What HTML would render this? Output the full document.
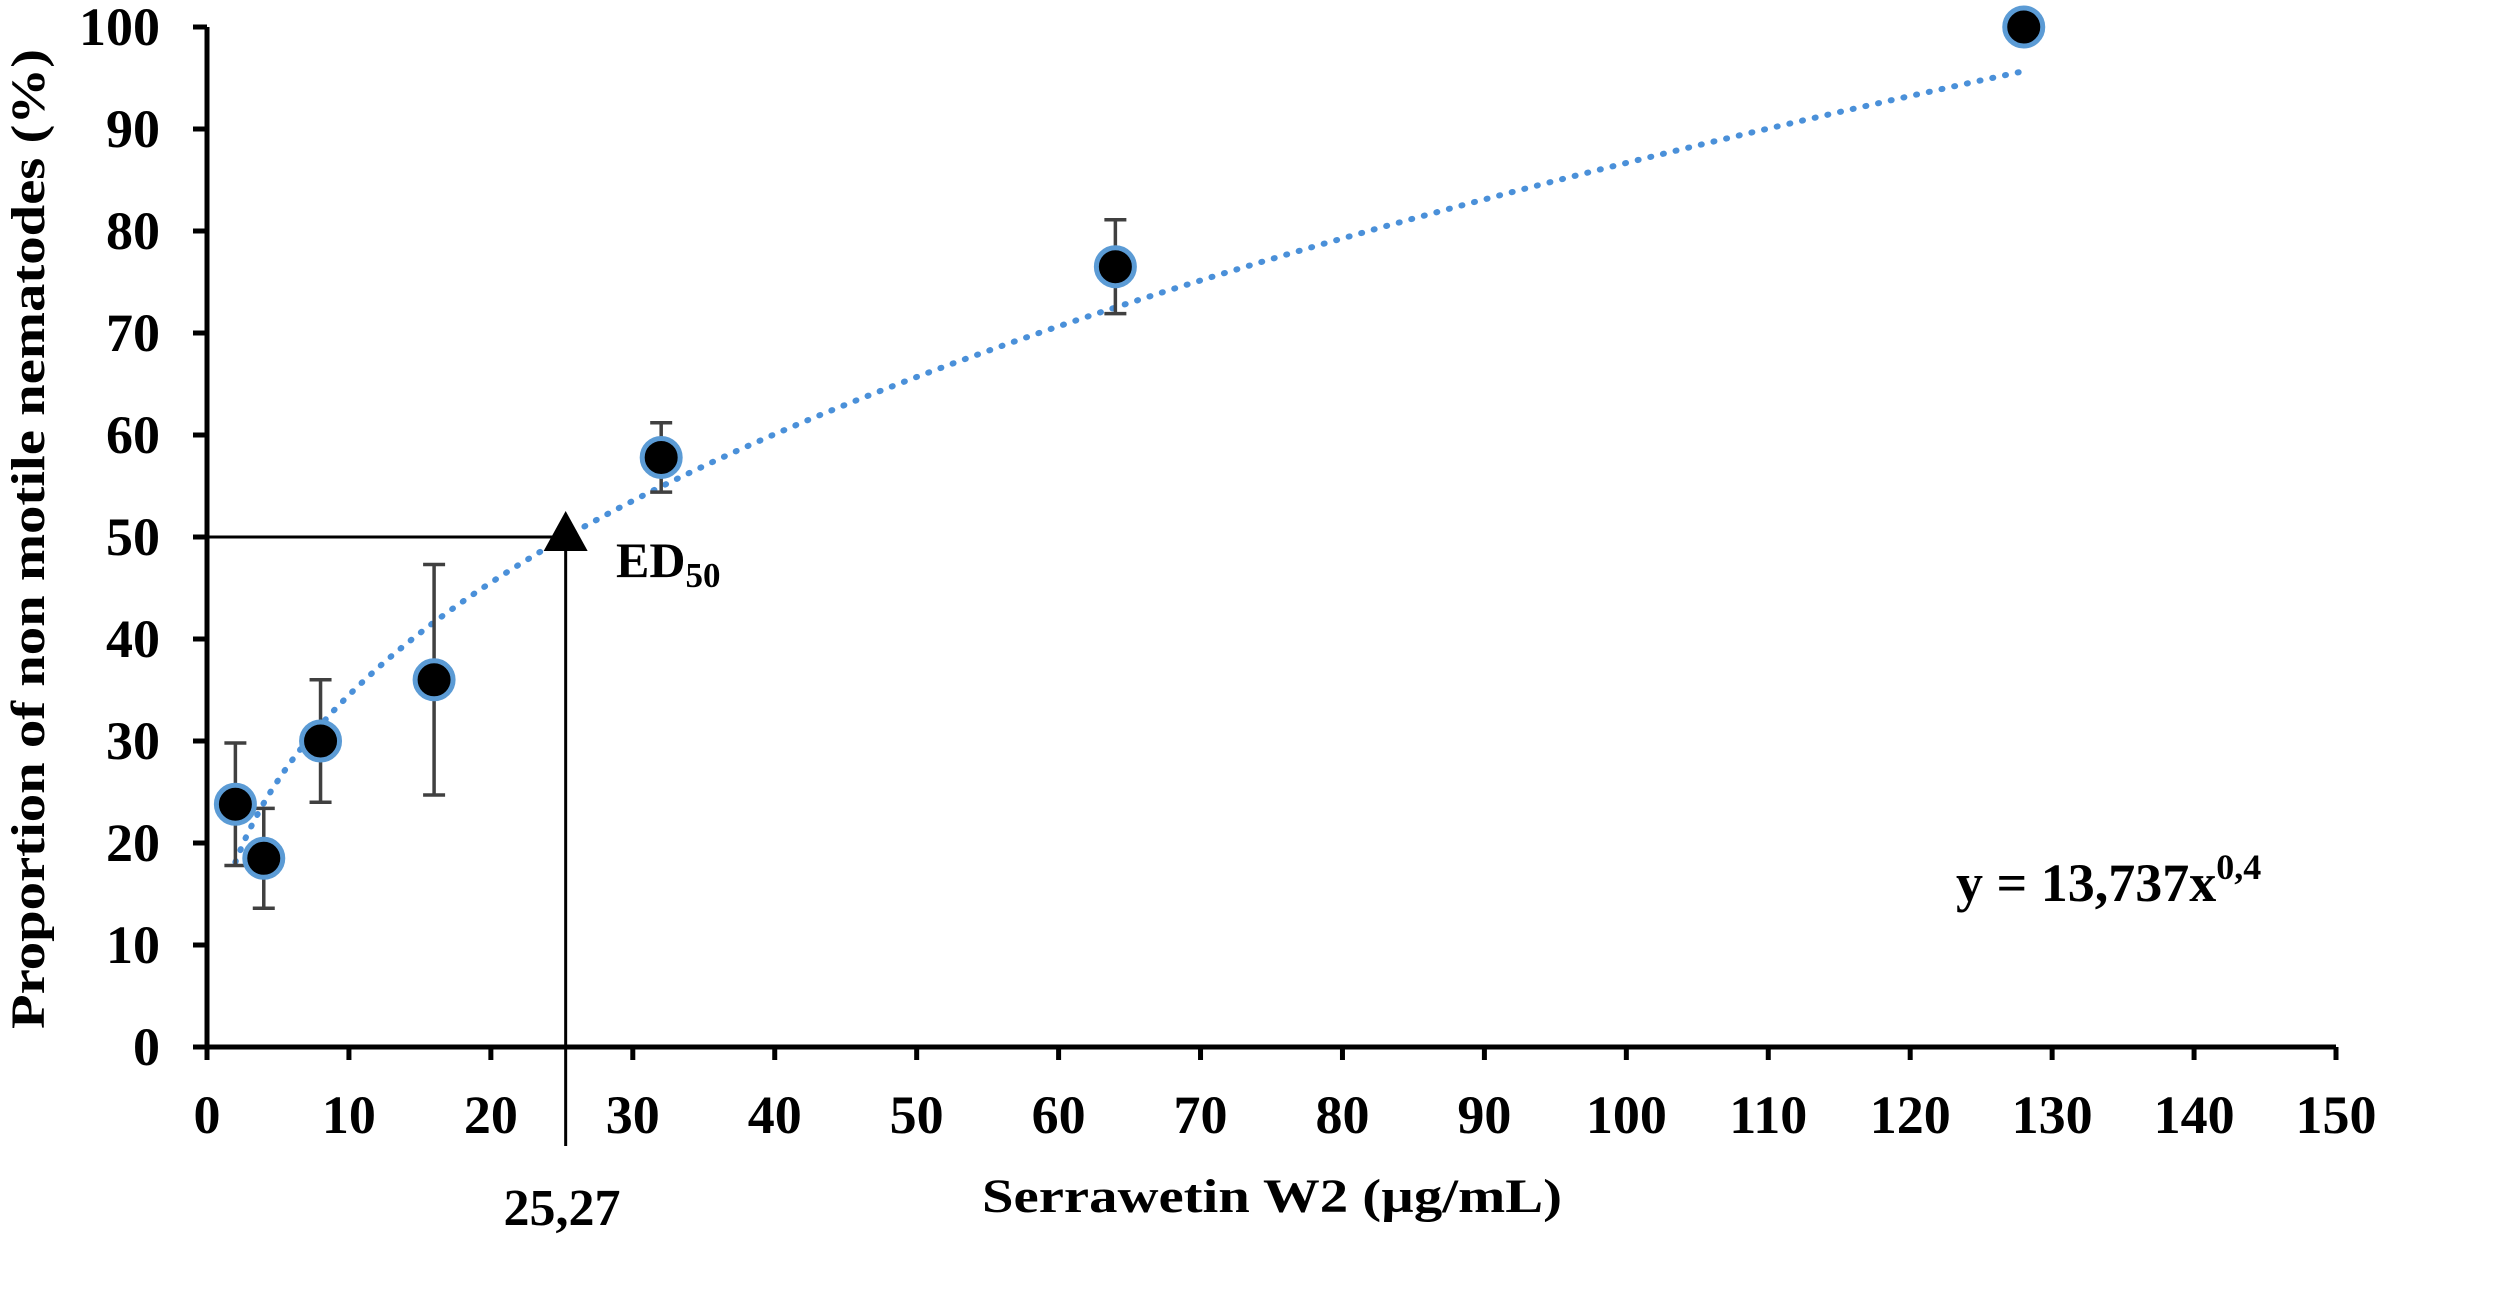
<!DOCTYPE html>
<html><head><meta charset="utf-8"><style>
html,body{margin:0;padding:0;background:#fff;}
svg{display:block;font-family:"Liberation Serif",serif;font-weight:bold;}
</style></head><body>
<svg id="chart" width="2500" height="1304" viewBox="0 0 2500 1304" xmlns="http://www.w3.org/2000/svg">
<g id="trend"></g>
<g id="refs"></g>
<g id="errs"></g>
<g id="pts"></g>
<g id="axes"></g>
<text transform="translate(44,539) rotate(-90)" text-anchor="middle" font-size="48" textLength="980" lengthAdjust="spacingAndGlyphs">Proportion of non motile nematodes (%)</text>
<text x="1272" y="1212" text-anchor="middle" font-size="48" textLength="580" lengthAdjust="spacingAndGlyphs">Serrawetin W2 (µg/mL)</text>
<text x="562" y="1225" text-anchor="middle" font-size="52">25,27</text>
<text x="616" y="577" font-size="50">ED<tspan font-size="35" dy="10">50</tspan></text>
<text x="1956" y="901" font-size="54">y = 13,737x<tspan font-size="36" dy="-22">0,4</tspan></text>
</svg>
<script>
const xValues = [2, 4, 8, 16, 32, 64, 128];
const yValues = [23.8, 18.5, 30, 36, 57.8, 76.5, 100];
const yErrors = [6, 4.9, 6, 11.3, 3.4, 4.6, 0];
const xTicks = [0,10,20,30,40,50,60,70,80,90,100,110,120,130,140,150];
const yTicks = [0,10,20,30,40,50,60,70,80,90,100];
const trendCoef = 13.737;
const trendExp = 0.4;
const ed50X = 25.27;
const ed50Y = 50;

const X0=207, X1=2336, Y0=1047, Y1=27;
const sx = v => X0 + (v/150)*(X1-X0);
const sy = v => Y0 - (v/100)*(Y0-Y1);
const NS='http://www.w3.org/2000/svg';
function mk(tag, attrs, parent){const e=document.createElementNS(NS,tag);for(const k in attrs)e.setAttribute(k,attrs[k]);parent.appendChild(e);return e;}

const axes=document.getElementById('axes');
let a=mk('line',{x1:X0,y1:Y0,x2:X1,y2:Y0,stroke:'#000','stroke-width':5},axes);


a=mk('line',{x1:X0,y1:Y0+2,x2:X0,y2:Y1,stroke:'#000','stroke-width':5},axes);


xTicks.forEach(t=>{
  const x=sx(t);
  const l=mk('line',{x1:x,y1:Y0,x2:x,y2:Y0+13,stroke:'#000','stroke-width':5},axes);
  
  
  const tx=mk('text',{x:x,y:1133,'text-anchor':'middle','font-size':54},axes);
  tx.textContent=t;
  
  
});
yTicks.forEach(t=>{
  const y=sy(t);
  const l=mk('line',{x1:X0-14,y1:y,x2:X0,y2:y,stroke:'#000','stroke-width':5},axes);
  
  
  const tx=mk('text',{x:160,y:y+18,'text-anchor':'end','font-size':54},axes);
  tx.textContent=t;
  
  
});

let d='';
for(let i=0;i<=200;i++){const xv=xValues[0]+(xValues[xValues.length-1]-xValues[0])*i/200;const yv=trendCoef*Math.pow(xv,trendExp);d+=(i?'L':'M')+sx(xv).toFixed(1)+','+sy(yv).toFixed(1);}
const tp=mk('path',{d:d,fill:'none',stroke:'#4a90d9','stroke-width':6,'stroke-dasharray':'1 12','stroke-linecap':'round'},document.getElementById('trend'));



const refs=document.getElementById('refs');
let r=mk('line',{x1:X0,y1:sy(ed50Y),x2:sx(ed50X),y2:sy(ed50Y),stroke:'#000','stroke-width':3},refs);


r=mk('line',{x1:sx(ed50X),y1:sy(ed50Y),x2:sx(ed50X),y2:1146,stroke:'#000','stroke-width':3},refs);


const ex=sx(ed50X), ey=sy(ed50Y);
r=mk('polygon',{points:`${ex},${ey-26} ${ex-22},${ey+14} ${ex+22},${ey+14}`,fill:'#000'},refs);



const errs=document.getElementById('errs'), pts=document.getElementById('pts');
xValues.forEach((xv,i)=>{
  const x=sx(xv), e=yErrors[i];
  if(e>0){
    const yt=sy(yValues[i]+e), yb=sy(yValues[i]-e);
    const g=mk('g',{stroke:'#404040','stroke-width':3.5},errs);
    
    
    mk('line',{x1:x,y1:yt,x2:x,y2:yb},g);
    mk('line',{x1:x-11,y1:yt,x2:x+11,y2:yt},g);
    mk('line',{x1:x-11,y1:yb,x2:x+11,y2:yb},g);
  }
  const c=mk('circle',{cx:x,cy:sy(yValues[i]),r:19,fill:'#000',stroke:'#5b9bd5','stroke-width':5},pts);
  
  
});
</script>
</body></html>
